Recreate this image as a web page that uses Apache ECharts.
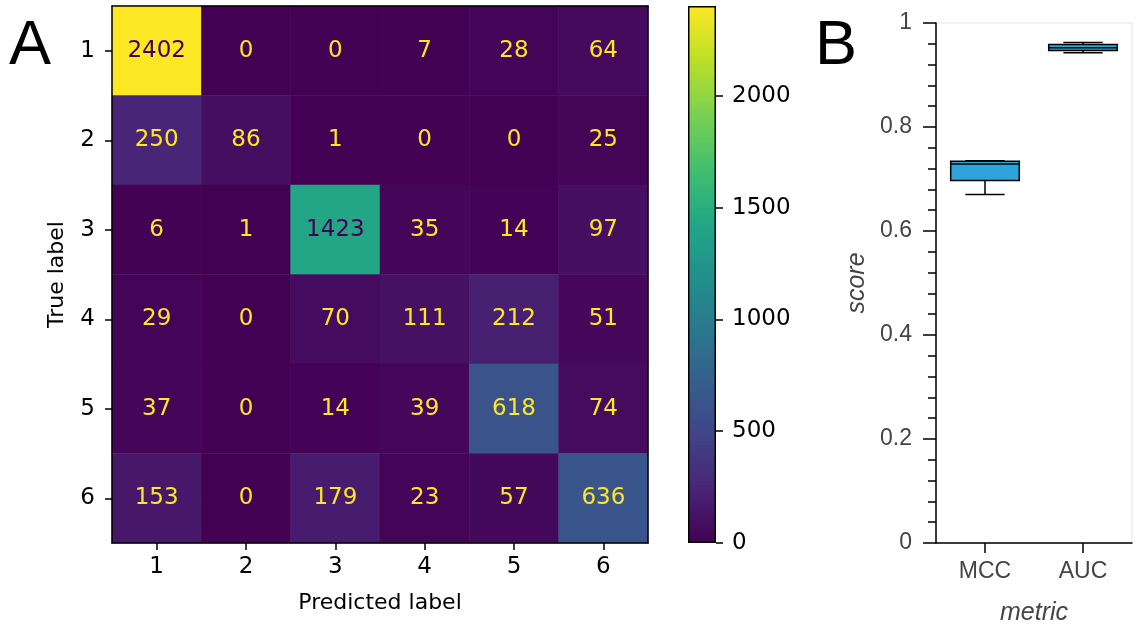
<!DOCTYPE html>
<html>
<head>
<meta charset="utf-8">
<script src="https://cdn.jsdelivr.net/npm/echarts@6/dist/echarts.min.js"></script>
<style>
  html, body { margin: 0; padding: 0; background: #fff; }
  #chart { width: 1138px; height: 631px; }
</style>
</head>
<body>
<div id="chart"></div>
<script>
  // confusion matrix (rows = true label, cols = predicted label)
  var labels = ['1', '2', '3', '4', '5', '6'];
  var row1 = [2402, 0, 0, 7, 28, 64];
  var row2 = [250, 86, 1, 0, 0, 25];
  var row3 = [6, 1, 1423, 35, 14, 97];
  var row4 = [29, 0, 70, 111, 212, 51];
  var row5 = [37, 0, 14, 39, 618, 74];
  var row6 = [153, 0, 179, 23, 57, 636];
  var matrix = [row1, row2, row3, row4, row5, row6];
  var colorbarTicks = [0, 500, 1000, 1500, 2000];

  // box plot of scores
  var metrics = ['MCC', 'AUC'];
  var boxMin = [0.670, 0.943];
  var boxQ1 = [0.697, 0.947];
  var boxMedian = [0.729, 0.9525];
  var boxQ3 = [0.734, 0.9586];
  var boxMax = [0.735, 0.9625];

  var viridis = ['#440154', '#482475', '#414487', '#355f8d', '#2a788e', '#21918c',
                 '#22a884', '#44bf70', '#7ad151', '#bddf26', '#fde725'];

  var vmax = 0;
  matrix.forEach(function(r) { r.forEach(function(v) { if (v > vmax) vmax = v; }); });
  var thresh = vmax / 2;

  var heatData = [];
  matrix.forEach(function(r, i) {
    r.forEach(function(v, j) {
      heatData.push({
        value: [j, i, v],
        label: { color: v > thresh ? viridis[0] : viridis[10] }
      });
    });
  });

  var gradStops = viridis.slice().reverse().map(function(c, i) {
    return { offset: i / (viridis.length - 1), color: c };
  });

  var boxData = metrics.map(function(m, i) {
    return [i, boxMin[i], boxQ1[i], boxMedian[i], boxQ3[i], boxMax[i]];
  });

  var mpl = 'DejaVu Sans';
  var hel = 'Liberation Sans';
  var plain = function(v) { return String(v); };

  function renderBox(params, api) {
    var idx = api.value(0);
    var band = api.size([1, 0])[0];
    var bw = band * 0.7;
    var cw = band * 0.4;
    var pMin = api.coord([idx, api.value(1)]);
    var pQ1 = api.coord([idx, api.value(2)]);
    var pMed = api.coord([idx, api.value(3)]);
    var pQ3 = api.coord([idx, api.value(4)]);
    var pMax = api.coord([idx, api.value(5)]);
    var cx = pMed[0];
    var line = { stroke: '#000', lineWidth: 1.5 };
    return {
      type: 'group',
      children: [
        { type: 'line', shape: { x1: cx, y1: pMin[1], x2: cx, y2: pQ1[1] }, style: line },
        { type: 'line', shape: { x1: cx, y1: pQ3[1], x2: cx, y2: pMax[1] }, style: line },
        { type: 'line', shape: { x1: cx - cw / 2, y1: pMin[1], x2: cx + cw / 2, y2: pMin[1] }, style: line },
        { type: 'line', shape: { x1: cx - cw / 2, y1: pMax[1], x2: cx + cw / 2, y2: pMax[1] }, style: line },
        { type: 'rect', shape: { x: cx - bw / 2, y: pQ3[1], width: bw, height: pQ1[1] - pQ3[1] },
          style: { fill: '#2ea3dc', stroke: '#000', lineWidth: 1.5 } },
        { type: 'line', shape: { x1: cx - bw / 2, y1: pMed[1], x2: cx + bw / 2, y2: pMed[1] }, style: line }
      ]
    };
  }

  var chart = echarts.init(document.getElementById('chart'));
  chart.setOption({
    animation: false,
    backgroundColor: '#fff',
    title: [
      { text: 'A', left: 4, top: 10, textStyle: { fontFamily: hel, fontSize: 63, fontWeight: 'normal', color: '#000' } },
      { text: 'B', left: 810, top: 10, textStyle: { fontFamily: hel, fontSize: 63, fontWeight: 'normal', color: '#000' } }
    ],
    grid: [
      { left: 112, top: 6, width: 536, height: 537 },
      { left: 688, top: 6, width: 28, height: 537 },
      { left: 936, top: 23, width: 196, height: 522, show: true, borderColor: '#e3e3e3', borderWidth: 1, backgroundColor: 'transparent' }
    ],
    xAxis: [
      {
        gridIndex: 0, type: 'category', data: labels, position: 'bottom', z: 5,
        name: 'Predicted label', nameLocation: 'middle', nameGap: 49,
        nameTextStyle: { fontFamily: mpl, fontSize: 22, color: '#000' },
        axisLine: { lineStyle: { color: '#000', width: 1.5 } },
        axisTick: { show: true, alignWithLabel: true, length: 7, lineStyle: { color: '#000', width: 1.5 } },
        axisLabel: { fontFamily: mpl, fontSize: 23, color: '#000', margin: 13 },
        splitLine: { show: false }
      },
      {
        gridIndex: 0, type: 'category', data: labels, position: 'top', z: 5,
        axisLine: { lineStyle: { color: '#000', width: 1.5 } },
        axisTick: { show: false }, axisLabel: { show: false }
      },
      {
        gridIndex: 1, type: 'category', data: [''], show: false
      },
      {
        gridIndex: 2, type: 'category', data: metrics, z: 5,
        name: 'metric', nameLocation: 'middle', nameGap: 58,
        nameTextStyle: { fontFamily: hel, fontSize: 25, fontStyle: 'italic', color: '#444' },
        axisLine: { lineStyle: { color: '#000', width: 1.5 } },
        axisTick: { show: true, alignWithLabel: true, length: 10, lineStyle: { color: '#000', width: 1.5 } },
        axisLabel: { fontFamily: hel, fontSize: 23, color: '#444', margin: 17 },
        splitLine: { show: false }
      }
    ],
    yAxis: [
      {
        gridIndex: 0, type: 'category', data: labels, inverse: true, z: 5,
        name: 'True label', nameLocation: 'middle', nameGap: 44,
        nameTextStyle: { fontFamily: mpl, fontSize: 22, color: '#000' },
        axisLine: { lineStyle: { color: '#000', width: 1.5 } },
        axisTick: { show: true, alignWithLabel: true, length: 7, lineStyle: { color: '#000', width: 1.5 } },
        axisLabel: { fontFamily: mpl, fontSize: 23, color: '#000', margin: 17 },
        splitLine: { show: false }
      },
      {
        gridIndex: 0, type: 'category', data: labels, inverse: true, position: 'right', z: 5,
        axisLine: { lineStyle: { color: '#000', width: 1.5 } },
        axisTick: { show: false }, axisLabel: { show: false }
      },
      {
        gridIndex: 1, type: 'value', position: 'right', min: 0, max: vmax, z: 5,
        axisLine: { show: false },
        axisTick: { show: true, length: 7, customValues: colorbarTicks, lineStyle: { color: '#000', width: 1.5 } },
        axisLabel: { fontFamily: mpl, fontSize: 23, color: '#000', margin: 16, customValues: colorbarTicks, formatter: plain },
        splitLine: { show: false }
      },
      {
        gridIndex: 2, type: 'value', min: 0, max: 1, interval: 0.2, z: 5,
        name: 'score', nameLocation: 'middle', nameGap: 66,
        nameTextStyle: { fontFamily: hel, fontSize: 25, fontStyle: 'italic', color: '#444' },
        axisLine: { show: true, lineStyle: { color: '#000', width: 1.5 } },
        axisTick: { show: true, length: 13, lineStyle: { color: '#000', width: 1.5 } },
        minorTick: { show: true, splitNumber: 5, length: 8, lineStyle: { color: '#000', width: 1.5 } },
        axisLabel: { fontFamily: hel, fontSize: 23, color: '#444', margin: 24, formatter: plain },
        splitLine: { show: false }
      }
    ],
    visualMap: {
      show: false, type: 'continuous', seriesIndex: 0, dimension: 2,
      min: 0, max: vmax, inRange: { color: viridis }
    },
    series: [
      {
        type: 'heatmap', xAxisIndex: 0, yAxisIndex: 0, data: heatData,
        label: { show: true, fontFamily: mpl, fontSize: 23, formatter: function(p) { return p.value[2]; } },
        emphasis: { disabled: true }
      },
      {
        type: 'bar', xAxisIndex: 2, yAxisIndex: 2, data: [vmax], barWidth: '100%',
        itemStyle: {
          color: new echarts.graphic.LinearGradient(0, 0, 0, 1, gradStops),
          borderColor: '#000', borderWidth: 1.5
        },
        silent: true
      },
      {
        type: 'custom', xAxisIndex: 3, yAxisIndex: 3, data: boxData,
        encode: { x: 0, y: [1, 2, 3, 4, 5] },
        renderItem: renderBox
      }
    ]
  });
</script>
</body>
</html>
